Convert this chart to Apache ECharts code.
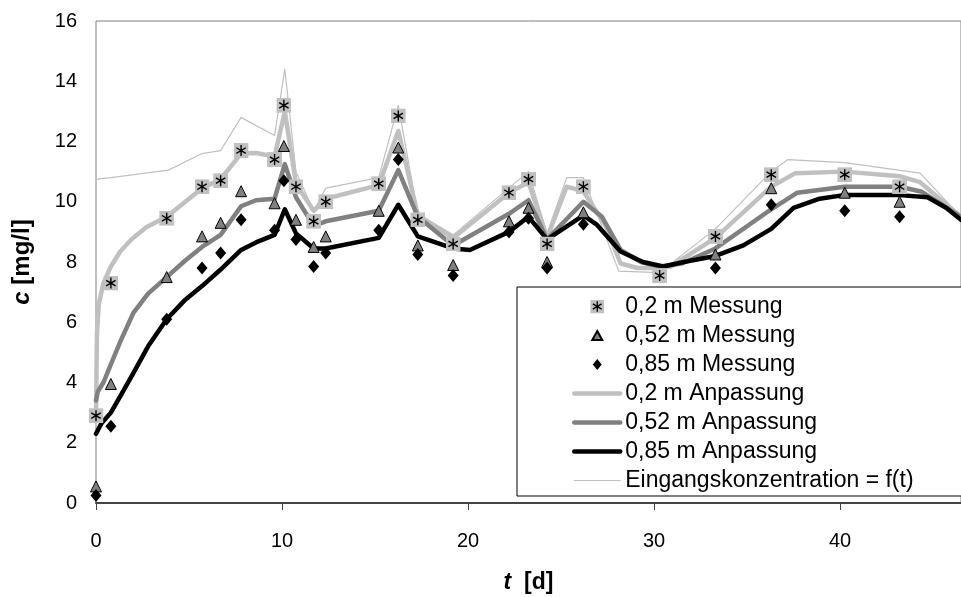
<!DOCTYPE html>
<html>
<head>
<meta charset="utf-8">
<script src="https://cdn.jsdelivr.net/npm/echarts@6/dist/echarts.min.js"></script>
<style>
  html, body { margin: 0; padding: 0; background: #fff; }
  #chart { width: 961px; height: 597px; }
</style>
</head>
<body>
<div id="chart"></div>
<script>
// Messzeitpunkte [d]
const tMess = [0, 0.8, 3.8, 5.7, 6.7, 7.8, 9.6, 10.1, 10.75, 11.7, 12.35, 15.2, 16.25, 17.3, 19.2, 22.2, 23.25, 24.25, 26.2, 30.3, 33.3, 36.3, 40.25, 43.2];
// Messwerte c [mg/l]
const mess02 = [2.9, 7.3, 9.45, 10.5, 10.7, 11.7, 11.4, 13.2, 10.5, 9.35, 10.0, 10.6, 12.85, 9.4, 8.6, 10.3, 10.75, 8.6, 10.5, 7.55, 8.85, 10.9, 10.9, 10.5];
const mess052 = [0.55, 3.95, 7.5, 8.85, 9.3, 10.35, 9.95, 11.85, 9.4, 8.5, 8.85, 9.7, 11.8, 8.55, 7.9, 9.35, 9.8, 8.0, 9.65, null, 8.25, 10.45, 10.3, 10.0];
const mess085 = [0.25, 2.55, 6.1, 7.8, 8.3, 9.4, 9.05, 10.7, 8.75, 7.85, 8.3, 9.05, 11.4, 8.25, 7.55, 9.0, 9.45, 7.8, 9.25, null, 7.8, 9.9, 9.7, 9.5];

// Anpassung 0,2 m
const tFit02 = [0, 0.05, 0.15, 0.4, 0.8, 1.3, 1.9, 2.7, 3.8, 4.8, 5.7, 6.7, 7.8, 8.6, 9.6, 10.15, 10.75, 11.7, 12.35, 15.2, 16.25, 17.3, 19.2, 22.2, 23.25, 24.25, 25.3, 26.2, 27.4, 28.2, 29.1, 30.3, 30.9, 33.3, 36.3, 37.6, 40.25, 43.2, 44.3, 46.5];
const fit02 = [2.9, 5.6, 6.6, 7.3, 7.85, 8.35, 8.75, 9.15, 9.5, 10.0, 10.45, 10.75, 11.6, 11.62, 11.5, 13.0, 10.6, 9.7, 10.1, 10.55, 12.35, 9.55, 8.8, 10.3, 10.65, 8.8, 10.5, 10.35, 9.2, 7.95, 7.8, 7.8, 7.85, 8.8, 10.5, 10.95, 11.0, 10.85, 10.65, 9.5];
// Anpassung 0,52 m
const tFit052 = [0, 0.1, 0.4, 0.8, 1.3, 2.0, 2.8, 3.8, 4.8, 5.7, 6.7, 7.8, 8.6, 9.6, 10.15, 10.75, 11.7, 12.35, 15.2, 16.25, 17.3, 19.2, 22.2, 23.25, 24.25, 26.2, 27.2, 28.2, 29.3, 30.3, 31.5, 33.3, 36.3, 37.7, 40.25, 43.2, 44.4, 46.5];
const fit052 = [3.4, 3.7, 4.0, 4.6, 5.35, 6.3, 6.95, 7.5, 8.05, 8.5, 8.9, 9.85, 10.05, 10.1, 11.25, 10.15, 9.2, 9.35, 9.7, 11.05, 9.5, 8.55, 9.6, 10.05, 8.75, 10.0, 9.5, 8.4, 8.0, 7.85, 7.95, 8.45, 9.75, 10.3, 10.5, 10.5, 10.33, 9.5];
// Anpassung 0,85 m
const tFit085 = [0, 0.3, 0.8, 1.4, 2.0, 2.8, 3.8, 4.8, 5.7, 6.7, 7.8, 8.6, 9.6, 10.15, 10.75, 11.7, 12.35, 15.2, 16.25, 17.3, 19.2, 20.1, 22.2, 23.25, 24.25, 26.2, 26.9, 28.2, 29.4, 30.5, 31.6, 33.3, 34.8, 36.3, 37.5, 38.9, 40.2, 43.2, 44.7, 45.7, 46.5];
const fit085 = [2.3, 2.65, 3.0, 3.65, 4.3, 5.2, 6.1, 6.75, 7.2, 7.75, 8.4, 8.65, 8.9, 9.75, 8.95, 8.45, 8.45, 8.8, 9.9, 8.85, 8.45, 8.4, 9.0, 9.5, 8.75, 9.55, 9.25, 8.35, 8.0, 7.85, 8.0, 8.2, 8.55, 9.1, 9.8, 10.1, 10.22, 10.22, 10.15, 9.8, 9.4];
// Eingangskonzentration
const tIn = [0, 0.8, 3.9, 5.7, 6.7, 7.8, 9.6, 10.15, 10.75, 11.7, 12.35, 15.2, 16.25, 17.3, 19.2, 23.25, 24.25, 25.3, 26.2, 28.1, 30.3, 33.3, 36.3, 37.2, 40.25, 44.3, 46.5];
const cIn = [10.75, 10.8, 11.05, 11.6, 11.7, 12.8, 12.2, 14.4, 11.0, 9.7, 10.45, 10.8, 13.2, 9.6, 8.9, 11.0, 8.95, 10.8, 10.8, 7.7, 7.65, 9.1, 11.0, 11.4, 11.3, 10.95, 9.5];

const names = ["0,2 m Messung", "0,52 m Messung", "0,85 m Messung", "0,2 m Anpassung", "0,52 m Anpassung", "0,85 m Anpassung", "Eingangskonzentration = f(t)"];
const xTicks = [0, 10, 20, 30, 40];

const zip = (t, v) => t.map((x, i) => [x, v[i]]);
const font = "'Liberation Sans', Arial, sans-serif";

// grey square with black asterisk (Excel star marker)
const starSvg = "<svg xmlns='http://www.w3.org/2000/svg' width='15' height='15' viewBox='0 0 15 15'>" +
  "<rect width='15' height='15' fill='#c0c0c0'/>" +
  "<path d='M7.5 2V13M2.8 4.7L12.2 10.3M2.8 10.3L12.2 4.7' stroke='#000' stroke-width='1.4' fill='none'/></svg>";
const starSymbol = "image://data:image/svg+xml;charset=utf-8," + encodeURIComponent(starSvg);
// legend icons: empty moveTo corners keep the 14px box, shape is smaller
const triIcon = "path://M-7,-7M7,7M0,-4.5L5,4.5L-5,4.5Z";
const diaIcon = "path://M-7,-7M7,7M0,-5.5L4.5,0L0,5.5L-4.5,0Z";

const lineColors = ["#c0c0c0", "#808080", "#000", "#c0c0c0"];
const lineWidths = [4.5, 4.5, 4.5, 1.2];

const lineSeries = (name, data, idx, z) => ({
  name, type: "line", data, symbol: "none", z,
  lineStyle: { color: lineColors[idx], width: lineWidths[idx], join: "round", cap: "round" },
  itemStyle: { color: lineColors[idx], opacity: 0 },
});

const chart = echarts.init(document.getElementById("chart"));
chart.setOption({
  animation: false,
  textStyle: { fontFamily: font },
  grid: {
    left: 96, top: 21, right: 0, bottom: 94,
    outerBoundsMode: "none",
    show: true, borderColor: "#808080", borderWidth: 1,
  },
  legend: {
    data: [
      { name: names[0], icon: starSymbol },
      { name: names[1], icon: triIcon },
      { name: names[2], icon: diaIcon },
      { name: names[3], lineStyle: { width: lineWidths[0] }, itemStyle: { opacity: 0 } },
      { name: names[4], lineStyle: { width: lineWidths[1] }, itemStyle: { opacity: 0 } },
      { name: names[5], lineStyle: { width: lineWidths[2] }, itemStyle: { opacity: 0 } },
      { name: names[6], lineStyle: { width: lineWidths[3] }, itemStyle: { opacity: 0 } },
    ],
    orient: "vertical",
    left: 517, top: 287,
    padding: [8, 60, 4, 55],
    itemWidth: 46, itemHeight: 14, itemGap: 6,
    backgroundColor: "#fff",
    borderColor: "#000", borderWidth: 1, borderRadius: 0,
    textStyle: { fontFamily: font, fontSize: 23, color: "#000", lineHeight: 22 },
    selectedMode: false,
  },
  xAxis: {
    type: "value", min: 0, max: 46.5, interval: 10,
    name: "{i|t}  [d]", nameLocation: "middle", nameGap: 68,
    nameTextStyle: {
      fontFamily: font, fontSize: 23, fontWeight: "bold", color: "#000",
      rich: { i: { fontFamily: font, fontSize: 23, fontWeight: "bold", fontStyle: "italic", color: "#000" } },
    },
    axisLine: { show: true, onZero: false, lineStyle: { color: "#444", width: 2 } },
    axisTick: { show: true, inside: false, length: 7, customValues: xTicks, lineStyle: { color: "#444", width: 1 } },
    axisLabel: { customValues: xTicks, margin: 28, fontSize: 20, color: "#000", fontFamily: font },
    splitLine: { show: false },
  },
  yAxis: {
    type: "value", min: 0, max: 16, interval: 2,
    name: "{i|c} [mg/l]", nameLocation: "middle", nameGap: 62,
    nameTextStyle: {
      fontFamily: font, fontSize: 24, fontWeight: "bold", color: "#000",
      rich: { i: { fontFamily: font, fontSize: 24, fontWeight: "bold", fontStyle: "italic", color: "#000" } },
    },
    axisLine: { show: false },
    axisTick: { show: false },
    axisLabel: { margin: 19, fontSize: 20, color: "#000", fontFamily: font },
    splitLine: { show: false },
  },
  series: [
    {
      name: names[0], type: "scatter", z: 5,
      data: zip(tMess, mess02),
      symbol: starSymbol, symbolSize: 15,
      itemStyle: { color: "#c0c0c0", opacity: 1 },
    },
    {
      name: names[1], type: "scatter", z: 6,
      data: zip(tMess, mess052).filter((d) => d[1] != null),
      symbol: "triangle", symbolSize: 11,
      itemStyle: { color: "#808080", borderColor: "#000", borderWidth: 1, opacity: 1 },
    },
    {
      name: names[2], type: "scatter", z: 7,
      data: zip(tMess, mess085).filter((d) => d[1] != null),
      symbol: "diamond", symbolSize: [11, 13],
      itemStyle: { color: "#000", opacity: 1 },
    },
    lineSeries(names[3], zip(tFit02, fit02), 0, 2),
    lineSeries(names[4], zip(tFit052, fit052), 1, 3),
    lineSeries(names[5], zip(tFit085, fit085), 2, 4),
    lineSeries(names[6], zip(tIn, cIn), 3, 1),
  ],
});
</script>
</body>
</html>
